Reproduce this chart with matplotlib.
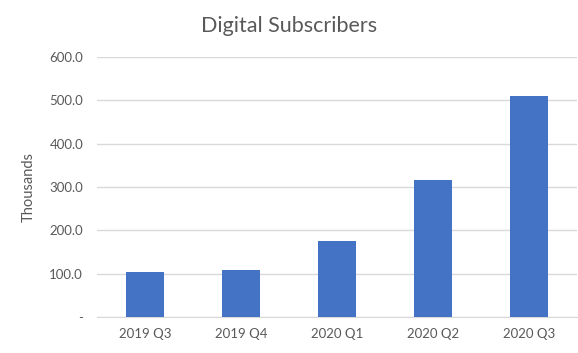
import matplotlib.pyplot as plt
import numpy as np

quarters = ["2019 Q3", "2019 Q4", "2020 Q1", "2020 Q2", "2020 Q3"]
subscribers = [103.8, 108.5, 175.4, 316.0, 510.0]
y_ticks = [0, 100, 200, 300, 400, 500, 600]

plt.rcParams['font.family'] = ['Lato', 'DejaVu Sans']

fig = plt.figure(figsize=(5.78, 3.53), dpi=100)
ax = fig.add_axes([0.1678, 0.102, 0.8305, 0.7365])

x = np.arange(len(quarters))
ax.bar(x, subscribers, width=0.4, color="#4472c4", zorder=3)

ax.set_xlim(-0.5, len(quarters) - 0.5)
ax.set_ylim(0, 600)
ax.set_yticks(y_ticks)
ax.set_yticklabels(["-" if v == 0 else f"{v:.1f}" for v in y_ticks])
ax.set_xticks(x)
ax.set_xticklabels(quarters)

ax.grid(axis="y", color="#d9d9d9", linewidth=1, zorder=0)
for side in ["top", "right", "left"]:
    ax.spines[side].set_visible(False)
ax.spines["bottom"].set_color("#d9d9d9")
ax.tick_params(axis="both", length=0, colors="#595959", labelsize=9.5)
ax.tick_params(axis="y", pad=10)
ax.tick_params(axis="x", pad=8)

ax.set_ylabel("Thousands", color="#595959", fontsize=10.5, labelpad=10)
fig.suptitle("Digital Subscribers", color="#595959", fontsize=15.5, y=0.955)

fig.savefig("out.png", dpi=100)
